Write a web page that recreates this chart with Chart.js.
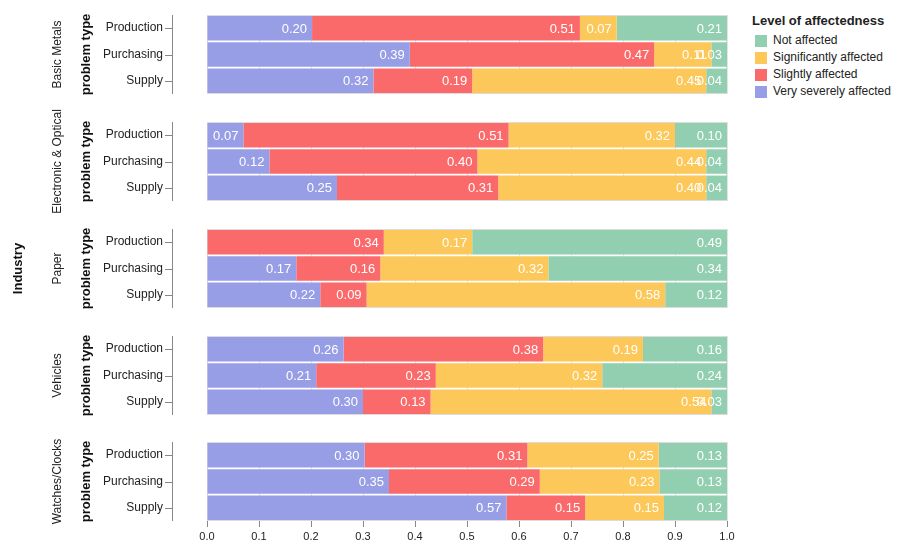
<!DOCTYPE html>
<html>
<head>
<meta charset="utf-8">
<script src="https://cdn.jsdelivr.net/npm/chart.js@4"></script>
<style>
  body { margin: 0; background: #fff; font-family: "Liberation Sans", Arial, sans-serif; }
  #wrap { position: relative; width: 899px; height: 544px; overflow: hidden; }
  canvas.facet { position: absolute; left: 0; }
  #legend { position: absolute; left: 752px; top: 13px; color: #222; }
  #legend .title { font-weight: bold; font-size: 13px; margin-bottom: 4px; }
  #legend .item { font-size: 12px; height: 17px; line-height: 17px; display: flex; align-items: center; }
  #legend .sw { width: 12px; height: 12px; margin: 0 6px 0 3px; }
</style>
</head>
<body>
<div id="wrap"><div id="legend"></div></div>
<script>
const industries = ["Basic Metals", "Electronic & Optical", "Paper", "Vehicles", "Watches/Clocks"];
const problemTypes = ["Production", "Purchasing", "Supply"];
const levels = ["Very severely affected", "Slightly affected", "Significantly affected", "Not affected"];
const levelColors = ["#989ee6", "#fb6a6a", "#fdc85a", "#92cfb0"];

// one inner array per industry: [Production, Purchasing, Supply]
const verySeverely = [[0.20, 0.39, 0.32], [0.07, 0.12, 0.25], [0.00, 0.17, 0.22], [0.26, 0.21, 0.30], [0.30, 0.35, 0.57]];
const slightly = [[0.51, 0.47, 0.19], [0.51, 0.40, 0.31], [0.34, 0.16, 0.09], [0.38, 0.23, 0.13], [0.31, 0.29, 0.15]];
const significantly = [[0.07, 0.11, 0.45], [0.32, 0.44, 0.40], [0.17, 0.32, 0.58], [0.19, 0.32, 0.54], [0.25, 0.23, 0.15]];
const notAffected = [[0.21, 0.03, 0.04], [0.10, 0.04, 0.04], [0.49, 0.34, 0.12], [0.16, 0.24, 0.03], [0.13, 0.13, 0.12]];

const xTicks = [0, 0.1, 0.2, 0.3, 0.4, 0.5, 0.6, 0.7, 0.8, 0.9, 1.0];

const seriesByLevel = [verySeverely, slightly, significantly, notAffected];

const plotTops = [15, 122, 229, 336, 442];
const plotLeft = 207;
const padLeft = 70;
const padTop = 24;

// legend
const legend = document.getElementById("legend");
legend.innerHTML = '<div class="title">Level of affectedness</div>';
for (let i = levels.length - 1; i >= 0; i--) {
  const row = document.createElement("div");
  row.className = "item";
  row.innerHTML = '<span class="sw" style="background:' + levelColors[i] + '"></span>' + levels[i];
  legend.appendChild(row);
}

const facetPlugin = {
  id: "facetDecor",
  beforeDatasetsDraw(chart) {
    const a = chart.chartArea;
    const ctx = chart.ctx;
    ctx.save();
    ctx.strokeStyle = "#dcdcdc";
    ctx.lineWidth = 1;
    ctx.strokeRect(a.left + 0.5, a.top + 0.5, a.right - a.left - 1, a.bottom - a.top - 1);
    ctx.restore();
  },
  afterDatasetsDraw(chart) {
    const ctx = chart.ctx;
    const a = chart.chartArea;
    ctx.save();
    ctx.font = "13px 'Liberation Sans', Arial, sans-serif";
    ctx.fillStyle = "#fff";
    ctx.textAlign = "right";
    ctx.textBaseline = "middle";
    chart.data.datasets.forEach((ds, di) => {
      chart.getDatasetMeta(di).data.forEach((bar, j) => {
        const v = ds.raw[j];
        if (!v) return;
        ctx.fillText(v.toFixed(2), Math.min(bar.x, a.right) - 5, bar.y + 1);
      });
    });
    ctx.restore();
  },
  afterDraw(chart, args, opts) {
    const ctx = chart.ctx;
    const a = chart.chartArea;
    const y = chart.scales.y;
    ctx.save();
    ctx.strokeStyle = "#888";
    ctx.lineWidth = 1;
    ctx.beginPath();
    ctx.moveTo(172.5, a.top);
    ctx.lineTo(172.5, a.bottom);
    y.ticks.forEach((t, i) => {
      const py = Math.round(y.getPixelForTick(i)) + 0.5;
      ctx.moveTo(165, py);
      ctx.lineTo(172.5, py);
    });
    ctx.stroke();

    const midY = (a.top + a.bottom) / 2;
    ctx.fillStyle = "#222";
    ctx.textAlign = "center";
    ctx.textBaseline = "middle";
    ctx.translate(58, midY);
    ctx.rotate(-Math.PI / 2);
    ctx.font = "12px 'Liberation Sans', Arial, sans-serif";
    ctx.fillText(opts.label, 0, 0);
    ctx.restore();

    if (opts.showIndustry) {
      ctx.save();
      ctx.fillStyle = "#111";
      ctx.textAlign = "center";
      ctx.textBaseline = "middle";
      ctx.translate(18, midY);
      ctx.rotate(-Math.PI / 2);
      ctx.font = "bold 13px 'Liberation Sans', Arial, sans-serif";
      ctx.fillText("Industry", 0, 0);
      ctx.restore();
    }
  }
};

const wrap = document.getElementById("wrap");

industries.forEach((industry, k) => {
  const last = k === industries.length - 1;
  const canvas = document.createElement("canvas");
  canvas.className = "facet";
  const top = plotTops[k] - padTop;
  const h = last ? 544 - top : padTop + 79 + padTop;
  canvas.style.top = top + "px";
  canvas.style.width = "740px";
  canvas.style.height = h + "px";
  canvas.width = 740;
  canvas.height = h;
  wrap.appendChild(canvas);

  const rowSums = problemTypes.map((p, j) =>
    seriesByLevel.reduce((s, arr) => s + arr[k][j], 0));

  new Chart(canvas, {
    type: "bar",
    data: {
      labels: problemTypes,
      datasets: levels.map((lvl, i) => ({
        label: lvl,
        raw: seriesByLevel[i][k],
        data: seriesByLevel[i][k].map((v, j) => v / rowSums[j]),
        backgroundColor: levelColors[i],
        borderWidth: 0,
        barPercentage: 0.93,
        categoryPercentage: 1
      }))
    },
    options: {
      indexAxis: "y",
      responsive: false,
      animation: false,
      layout: {
        padding: { left: padLeft, right: 13, top: padTop, bottom: last ? 0 : padTop }
      },
      plugins: {
        legend: { display: false },
        tooltip: { enabled: false },
        facetDecor: { label: industry, showIndustry: k === 2 }
      },
      scales: {
        x: {
          stacked: true,
          min: 0,
          max: 1,
          afterBuildTicks(scale) {
            scale.ticks = xTicks.map(v => ({ value: v }));
          },
          afterFit(scale) {
            scale.height = last ? 23 : 0;
            scale.paddingLeft = 0;
            scale.paddingRight = 0;
          },
          border: { display: false },
          grid: {
            color: "#e4e4e4",
            tickColor: "#888",
            drawTicks: last,
            tickLength: 6
          },
          ticks: {
            display: last,
            padding: 3,
            color: "#222",
            font: { size: 11, family: "'Liberation Sans', Arial, sans-serif" },
            maxRotation: 0,
            autoSkip: false,
            callback: v => Number(v).toFixed(1)
          }
        },
        y: {
          stacked: true,
          afterFit(scale) {
            scale.width = plotLeft - padLeft;
            scale.paddingTop = 0;
            scale.paddingBottom = 0;
          },
          border: { display: false },
          grid: {
            display: true,
            drawOnChartArea: false,
            drawTicks: true,
            tickLength: 40,
            tickColor: "rgba(0,0,0,0)"
          },
          ticks: {
            padding: 4,
            color: "#222",
            font: { size: 12, family: "'Liberation Sans', Arial, sans-serif" }
          },
          title: {
            display: true,
            text: "problem type",
            color: "#111",
            padding: { top: 9, bottom: 0 },
            font: { size: 13, weight: "bold", family: "'Liberation Sans', Arial, sans-serif" }
          }
        }
      }
    },
    plugins: [facetPlugin]
  });
});
</script>
</body>
</html>
